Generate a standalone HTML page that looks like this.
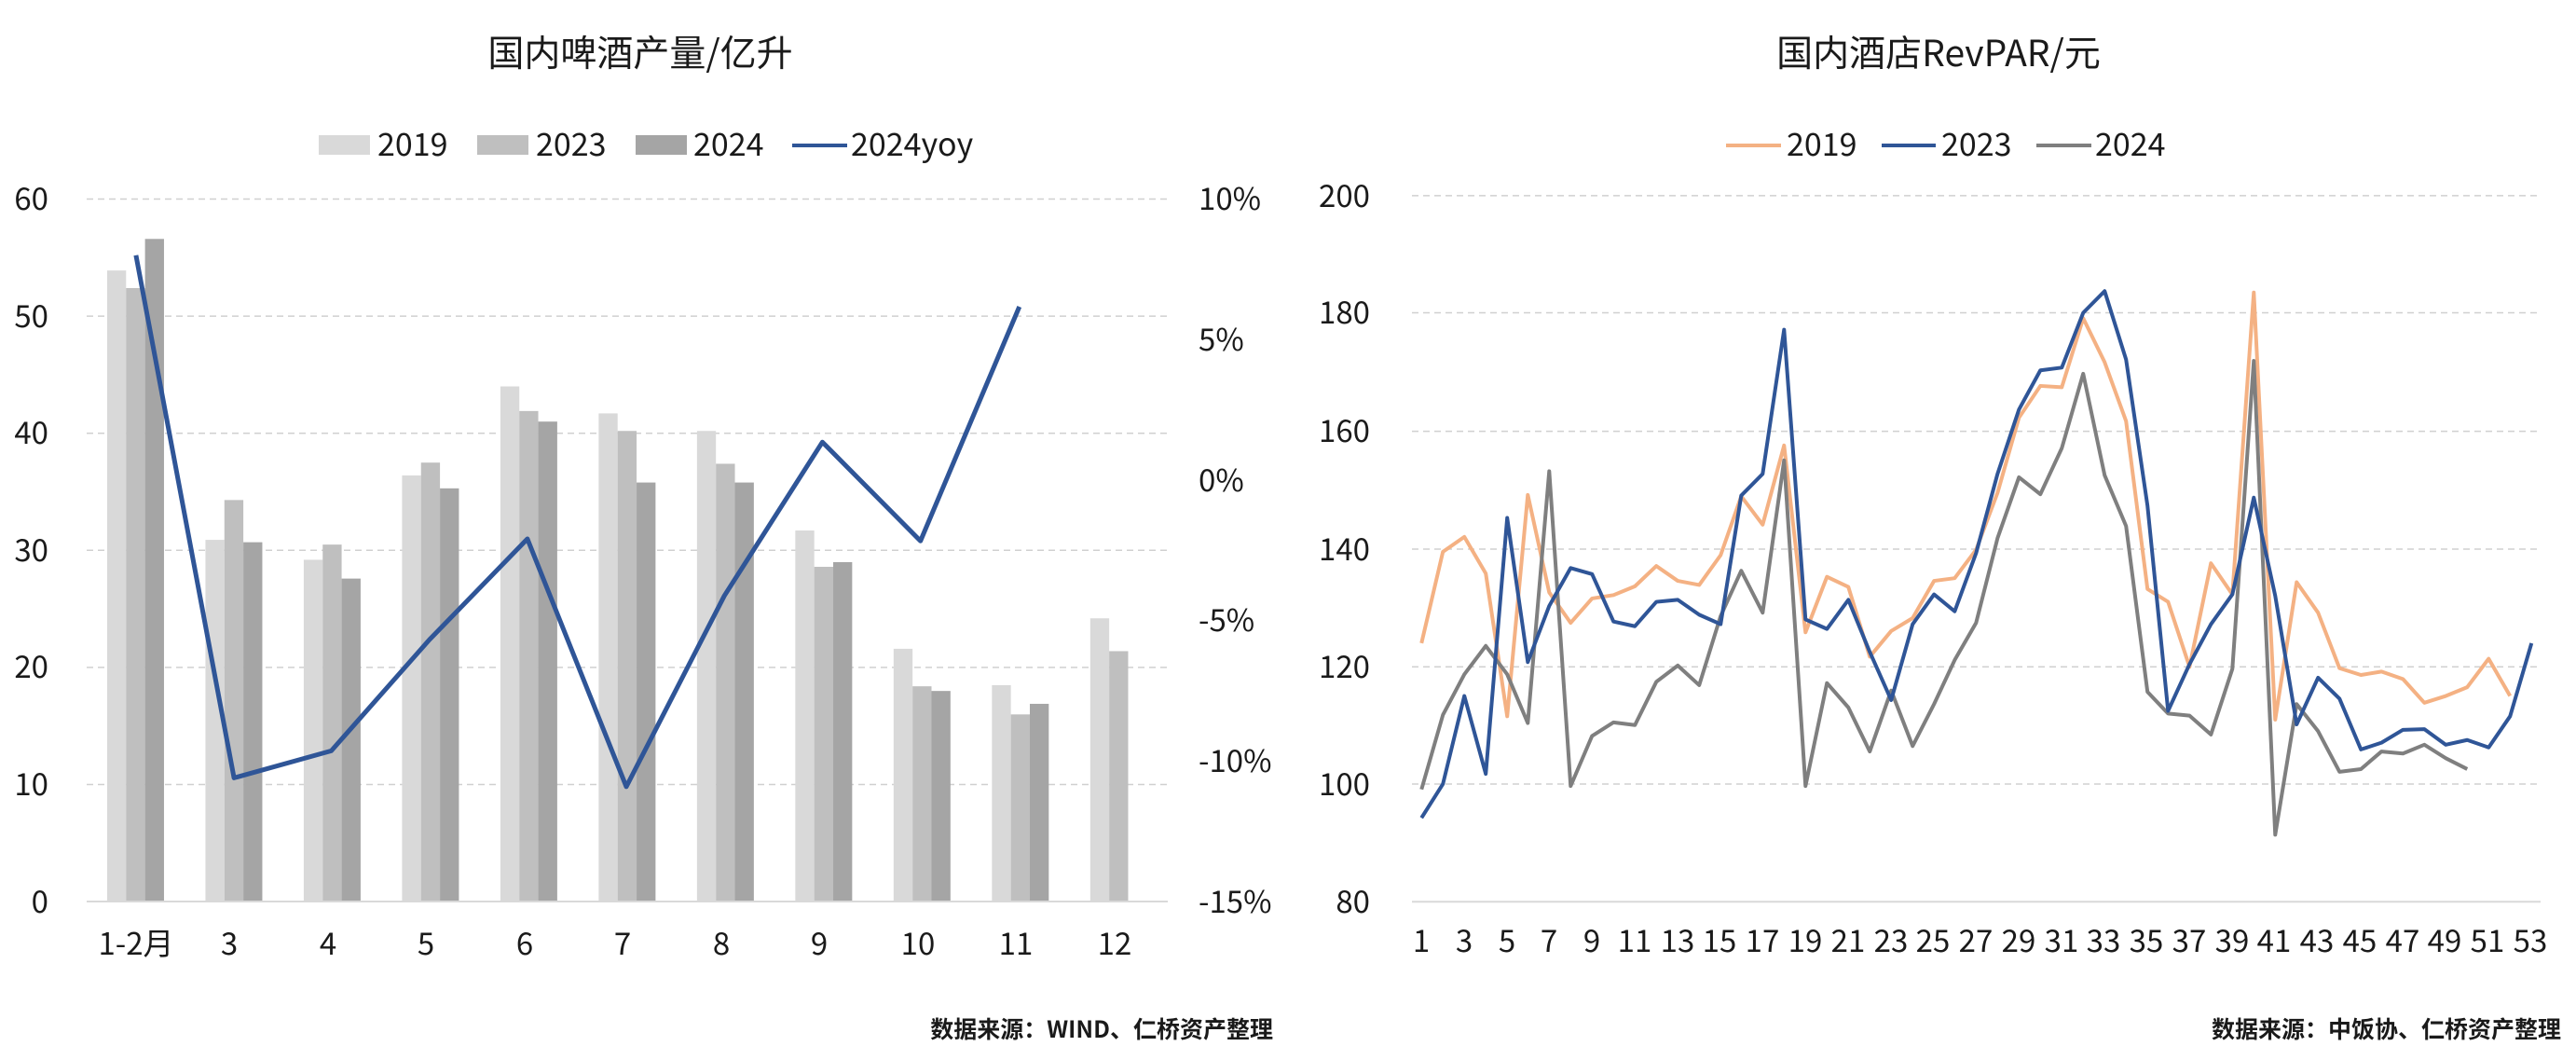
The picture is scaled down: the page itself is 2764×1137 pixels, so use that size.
<!DOCTYPE html>
<html><head><meta charset="utf-8"><style>
html,body{margin:0;padding:0;background:#fff;}
svg{display:block;}
text{font-family:"Noto Sans CJK SC","Liberation Sans",sans-serif;fill:#1a1a1a;}
.t{font-size:39px;}
.lg{font-size:34px;}
.tk{font-size:33px;}
.ft{font-size:25px;font-weight:bold;}
</style></head><body>
<svg width="2764" height="1137" viewBox="0 0 2764 1137" xmlns="http://www.w3.org/2000/svg">
<rect width="2764" height="1137" fill="#fff"/>
<!-- LEFT CHART -->
<text class="t" x="687" y="71" text-anchor="middle">国内啤酒产量/亿升</text>
<rect x="342" y="145" width="55" height="21" fill="#d9d9d9"/><text class="lg" x="405" y="167">2019</text>
<rect x="512" y="145" width="55" height="21" fill="#bfbfbf"/><text class="lg" x="575" y="167">2023</text>
<rect x="682" y="145" width="55" height="21" fill="#a5a5a5"/><text class="lg" x="744" y="167">2024</text>
<line x1="850" y1="156" x2="909" y2="156" stroke="#2f5597" stroke-width="4"/><text class="lg" x="913" y="167">2024yoy</text>
<g stroke="#d0d0d0" stroke-width="1.5" stroke-dasharray="7,5">
<line x1="93" y1="213.5" x2="1253" y2="213.5"/><line x1="93" y1="339.1" x2="1253" y2="339.1"/>
<line x1="93" y1="464.7" x2="1253" y2="464.7"/><line x1="93" y1="590.3" x2="1253" y2="590.3"/>
<line x1="93" y1="715.9" x2="1253" y2="715.9"/><line x1="93" y1="841.5" x2="1253" y2="841.5"/>
</g>
<g class="tk" text-anchor="end">
<text x="52" y="225">60</text><text x="52" y="351">50</text><text x="52" y="476">40</text><text x="52" y="602">30</text><text x="52" y="727">20</text><text x="52" y="853">10</text><text x="52" y="979">0</text>
</g>
<g class="tk">
<text x="1286" y="225">10%</text><text x="1286" y="376">5%</text><text x="1286" y="527">0%</text><text x="1286" y="677">-5%</text><text x="1286" y="828">-10%</text><text x="1286" y="979">-15%</text>
</g>
<g transform="scale(0.8842,0.7262)">
<g fill="#d9d9d9">
<rect x="130" y="399.5" width="23" height="932.5"/>
<rect x="249.3" y="797.4" width="23" height="534.6"/>
<rect x="368.6" y="826.8" width="23" height="505.2"/>
<rect x="487.9" y="702.3" width="23" height="629.7"/>
<rect x="607.2" y="570.8" width="23" height="761.2"/>
<rect x="726.5" y="610.6" width="23" height="721.4"/>
<rect x="845.8" y="636.5" width="23" height="695.5"/>
<rect x="965.1" y="783.6" width="23" height="548.4"/>
<rect x="1084.4" y="958.3" width="23" height="373.7"/>
<rect x="1203.7" y="1012" width="23" height="320"/>
<rect x="1323" y="913.3" width="23" height="418.7"/>
</g>
<g fill="#bfbfbf">
<rect x="153" y="425.5" width="23" height="906.5"/>
<rect x="272.3" y="738.6" width="23" height="593.4"/>
<rect x="391.6" y="804.4" width="23" height="527.6"/>
<rect x="510.9" y="683.3" width="23" height="648.7"/>
<rect x="630.2" y="607.1" width="23" height="724.9"/>
<rect x="749.5" y="636.5" width="23" height="695.5"/>
<rect x="868.8" y="685" width="23" height="647"/>
<rect x="988.1" y="837.2" width="23" height="494.8"/>
<rect x="1107.4" y="1013.7" width="23" height="318.3"/>
<rect x="1226.7" y="1055.2" width="23" height="276.8"/>
<rect x="1346" y="961.8" width="23" height="370.2"/>
</g>
<g fill="#a5a5a5">
<rect x="176" y="352.9" width="23" height="979.1"/>
<rect x="295.3" y="800.9" width="23" height="531.1"/>
<rect x="414.6" y="854.6" width="23" height="477.4"/>
<rect x="533.9" y="721.3" width="23" height="610.7"/>
<rect x="653.2" y="622.7" width="23" height="709.3"/>
<rect x="772.5" y="712.7" width="23" height="619.3"/>
<rect x="891.8" y="712.7" width="23" height="619.3"/>
<rect x="1011.1" y="830.3" width="23" height="501.7"/>
<rect x="1130.4" y="1020.6" width="23" height="311.4"/>
<rect x="1249.7" y="1039.6" width="23" height="292.4"/>
</g>
<polyline fill="none" stroke="#2f5597" stroke-width="5" vector-effect="non-scaling-stroke" stroke-linejoin="round"
points="165,377 284,1149 402,1109 521,945 640,796 760,1162 879,880 998,653 1117,799 1237,453"/>
</g>
<line x1="93" y1="967" x2="1253" y2="967" stroke="#d9d9d9" stroke-width="2"/>
<g class="tk" text-anchor="middle">
<text x="146" y="1024">1-2月</text><text x="246" y="1024">3</text><text x="352" y="1024">4</text><text x="457" y="1024">5</text><text x="563" y="1024">6</text><text x="668" y="1024">7</text><text x="774" y="1024">8</text><text x="879" y="1024">9</text><text x="985" y="1024">10</text><text x="1090" y="1024">11</text><text x="1196" y="1024">12</text>
</g>
<text class="ft" x="1366" y="1113" text-anchor="end">数据来源：WIND、仁桥资产整理</text>

<!-- RIGHT CHART -->
<text class="t" x="2080" y="71" text-anchor="middle">国内酒店RevPAR/元</text>
<line x1="1852" y1="156" x2="1911" y2="156" stroke="#f4b183" stroke-width="4"/><text class="lg" x="1917" y="167">2019</text>
<line x1="2019" y1="156" x2="2077" y2="156" stroke="#2f5597" stroke-width="4"/><text class="lg" x="2083" y="167">2023</text>
<line x1="2185" y1="156" x2="2244" y2="156" stroke="#7f7f7f" stroke-width="4"/><text class="lg" x="2248" y="167">2024</text>
<g stroke="#d0d0d0" stroke-width="1.5" stroke-dasharray="7,5">
<line x1="1515" y1="209.9" x2="2726" y2="209.9"/><line x1="1515" y1="335.5" x2="2726" y2="335.5"/>
<line x1="1515" y1="462.6" x2="2726" y2="462.6"/><line x1="1515" y1="589" x2="2726" y2="589"/>
<line x1="1515" y1="715.3" x2="2726" y2="715.3"/><line x1="1515" y1="841" x2="2726" y2="841"/>
</g>
<line x1="1515" y1="967.3" x2="2726" y2="967.3" stroke="#d9d9d9" stroke-width="2"/>
<g class="tk" text-anchor="end">
<text x="1470" y="222">200</text><text x="1470" y="347">180</text><text x="1470" y="474">160</text><text x="1470" y="601">140</text><text x="1470" y="727">120</text><text x="1470" y="853">100</text><text x="1470" y="979">80</text>
</g>
<g transform="translate(1382,0) scale(0.8842,0.7262)" fill="none" stroke-width="4" stroke-linejoin="round">
<polyline vector-effect="non-scaling-stroke" stroke="#f4b183" points="162,950 188,815 214,793 240,847 266,1058 291,731 317,875 343,920 369,884 395,879 421,866 447,836 473,858 499,864 525,820 550,733 576,775 602,658 628,934 654,852 680,867 706,970 732,932 758,913 784,858 809,854 835,812 861,728 887,617 913,570 939,572 965,470 991,535 1017,622 1043,870 1068,889 1094,985 1120,832 1146,878 1172,432 1198,1063 1224,860 1250,905 1276,987 1302,997 1327,992 1353,1003 1379,1038 1405,1028 1431,1015 1457,973 1483,1028"/>
<polyline vector-effect="non-scaling-stroke" stroke="#7f7f7f" points="162,1166 188,1056 214,996 240,954 266,996 291,1068 317,696 343,1161 369,1087 395,1067 421,1071 447,1007 473,983 499,1012 525,910 550,843 576,905 602,680 628,1161 654,1009 680,1045 706,1110 732,1020 758,1102 784,1040 809,975 835,920 861,795 887,705 913,730 939,662 965,552 991,702 1017,777 1043,1022 1068,1054 1094,1057 1120,1085 1146,988 1172,533 1198,1233 1224,1040 1250,1080 1276,1140 1302,1136 1327,1110 1353,1113 1379,1100 1405,1120 1431,1136"/>
<polyline vector-effect="non-scaling-stroke" stroke="#2f5597" points="162,1208 188,1158 214,1028 240,1143 266,765 291,978 317,895 343,839 369,848 395,918 421,925 447,889 473,886 499,908 525,922 550,732 576,700 602,487 628,915 654,929 680,886 706,963 732,1034 758,922 784,878 809,903 835,817 861,700 887,605 913,547 939,543 965,462 991,430 1017,531 1043,747 1068,1050 1094,981 1120,922 1146,878 1172,735 1198,880 1224,1070 1250,1001 1276,1032 1302,1107 1327,1097 1353,1078 1379,1077 1405,1100 1431,1093 1457,1104 1483,1058 1509,950"/>
</g>
<g class="tk" text-anchor="middle">
<text x="1525" y="1021">1</text><text x="1571" y="1021">3</text><text x="1617" y="1021">5</text><text x="1662" y="1021">7</text><text x="1708" y="1021">9</text><text x="1754" y="1021">11</text><text x="1800" y="1021">13</text><text x="1845" y="1021">15</text><text x="1891" y="1021">17</text><text x="1937" y="1021">19</text><text x="1983" y="1021">21</text><text x="2029" y="1021">23</text><text x="2074" y="1021">25</text><text x="2120" y="1021">27</text><text x="2166" y="1021">29</text><text x="2212" y="1021">31</text><text x="2257" y="1021">33</text><text x="2303" y="1021">35</text><text x="2349" y="1021">37</text><text x="2395" y="1021">39</text><text x="2440" y="1021">41</text><text x="2486" y="1021">43</text><text x="2532" y="1021">45</text><text x="2578" y="1021">47</text><text x="2623" y="1021">49</text><text x="2669" y="1021">51</text><text x="2715" y="1021">53</text>
</g>
<text class="ft" x="2748" y="1113" text-anchor="end">数据来源：中饭协、仁桥资产整理</text>
</svg>
</body></html>
